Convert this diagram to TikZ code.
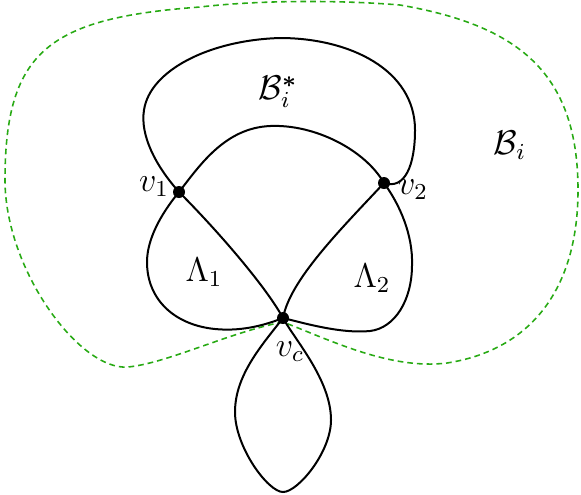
\documentclass[tikz,border=0pt]{standalone}
\usepackage{amsmath}
\begin{document}
\begin{tikzpicture}[x=0.35pt,y=-0.35pt,
  curve/.style={line width=0.7pt,black},
  region/.style={line width=0.55pt,draw={rgb,255:red,40;green,170;blue,20},dash pattern=on 2pt off 1.4pt},
  vdot/.style={circle,fill=black,inner sep=0pt,minimum size=4.2pt},
  lbl/.style={inner sep=0pt,font=\fontsize{12}{14}\selectfont}]
\useasboundingbox (0,0) rectangle (581,494);
\coordinate (v1) at (179,192);
\coordinate (v2) at (384,183);
\coordinate (vc) at (283,318);
\coordinate (g0) at (283,322);
% green dashed boundary of B_i
\draw[region] (g0) .. controls (230,332) and (168,363) .. (128,367)
  .. controls (80,371) and (5,270) .. (5,180)
  .. controls (5,50) and (50,18) .. (200,7)
  .. controls (260,0) and (340,0) .. (400,5)
  .. controls (515,25) and (578,70) .. (578,190)
  .. controls (578,290) and (530,350) .. (447,363)
  .. controls (390,370) and (330,340) .. (g0);
% outer loop of B_i^*
\draw[curve] (v1) .. controls (155,165) and (140,135) .. (144,110)
  .. controls (150,70) and (210,40) .. (280,38)
  .. controls (350,38) and (415,70) .. (415,130)
  .. controls (415,165) and (405,190) .. (v2);
% inner arc
\draw[curve] (v1) .. controls (200,165) and (225,128) .. (270,126)
  .. controls (315,124) and (365,150) .. (v2);
% right side of Lambda_2
\draw[curve] (v2) .. controls (400,205) and (413,235) .. (412,265)
  .. controls (412,300) and (395,328) .. (370,331)
  .. controls (340,334) and (300,322) .. (vc);
% diagonals
\draw[curve] (v1) .. controls (215,228) and (265,285) .. (vc);
\draw[curve] (vc) .. controls (290,280) and (340,230) .. (v2);
% left lobe Lambda_1
\draw[curve] (v1) .. controls (160,215) and (147,240) .. (147,262)
  .. controls (147,300) and (175,325) .. (215,329)
  .. controls (245,332) and (270,323) .. (vc);
% bottom lobe
\draw[curve] (vc) .. controls (262,345) and (235,375) .. (235,412)
  .. controls (235,447) and (268,492) .. (283,492)
  .. controls (298,492) and (331,452) .. (331,420)
  .. controls (331,380) and (295,340) .. (vc);
% vertices
\node[vdot] (d1) at (v1) {};
\node[vdot] (d2) at (v2) {};
\node[vdot] (dc) at (vc) {};
% labels
\node[lbl] (lv1) at (154,187) {$v_1$};
\node[lbl] (lv2) at (413,190) {$v_2$};
\node[lbl] (lvc) at (290,352) {$v_c$};
\node[lbl] (lbs) at (278,92) {$\mathcal{B}_i^{\boldsymbol{*}}$};
\node[lbl] (lb) at (510,145) {$\mathcal{B}_i$};
\node[lbl] (ll1) at (204,272) {$\Lambda_1$};
\node[lbl] (ll2) at (372,278) {$\Lambda_2$};
\end{tikzpicture}
\end{document}
